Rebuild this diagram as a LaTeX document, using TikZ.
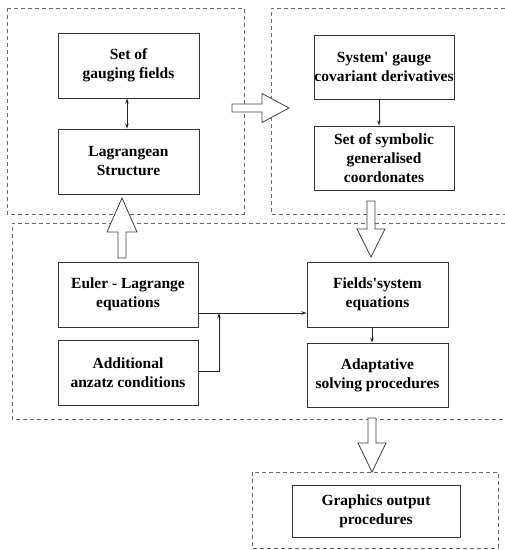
\documentclass[tikz,border=0pt]{standalone}
\usepackage{fontspec}
\setmainfont{Liberation Serif}
\usetikzlibrary{arrows.meta,calc}
\begin{document}
\begin{tikzpicture}[x=1pt,y=-1pt,
  box/.style={draw=black!80, line width=0.9pt, minimum width=141pt, minimum height=65pt,
    align=center, inner sep=0pt, font=\fontsize{15.5}{19}\selectfont\bfseries},
  region/.style={draw=black!60, dash pattern=on 4pt off 3pt, line width=0.8pt},
  thin/.style={draw=black!85, line width=0.8pt, -{Stealth[length=5pt,width=3.5pt]}},
  hollow/.style={draw=black!75, fill=white, line width=0.8pt, line join=miter}]
\useasboundingbox (0,0) rectangle (505,550);

% dashed regions
\draw[region] (7,8) rectangle (244,214);
\draw[region] (505,8) -- (271,8) -- (271,214) -- (505,214);
\draw[region] (505,223) -- (12,223) -- (12,419) -- (505,419);
\draw[region] (252,472) rectangle (498,548);

% boxes
\node[box] (gauge) at (128.5,65.5) {Set of\\gauging fields};
\node[box] (lagr) at (128.5,161.5) {Lagrangean\\Structure};
\node[box, minimum width=140pt, minimum height=64pt] (sysg) at (384,67) {System\textquotesingle{} gauge\\covariant derivatives};
\node[box, minimum width=140pt, minimum height=64pt] (symb) at (384,158) {Set of symbolic\\generalised\\coordonates};
\node[box, minimum width=140pt] (euler) at (128,294.5) {Euler - Lagrange\\equations};
\node[box, minimum width=140pt] (addit) at (128,372.5) {Additional\\anzatz conditions};
\node[box] (fields) at (377.5,294.5) {Fields\textquotesingle{}system\\equations};
\node[box, minimum height=64pt] (adapt) at (377.5,375) {Adaptative\\solving procedures};
\node[box, minimum width=168pt, minimum height=52pt] (graph) at (376,511) {Graphics output\\procedures};

% thin connectors
\draw[thin, {Stealth[length=5pt,width=3.5pt]}-{Stealth[length=5pt,width=3.5pt]}]
  (gauge.south -| 127,0) -- (lagr.north -| 127,0);
\draw[thin] (sysg.south -| 379,0) -- (symb.north -| 379,0);
\coordinate (j) at (219,313);
\draw[thin] (euler.east |- j) -- (fields.west |- j);
\draw[thin] (addit.east |- 0,371) -| (j);
\draw[thin] (fields.south -| 372,0) -- (adapt.north -| 372,0);

% hollow arrows
\coordinate (r0) at (232,108); \coordinate (r1) at (289,108);
\draw[hollow] ($(r0)+(0,-4)$) -- ($(r1)+(-27,-4)$) -- ($(r1)+(-27,-14.5)$) -- (r1)
  -- ($(r1)+(-27,14.5)$) -- ($(r1)+(-27,4)$) -- ($(r0)+(0,4)$) -- cycle;
\coordinate (u0) at (122,258); \coordinate (u1) at (122,198);
\draw[hollow] ($(u0)+(-4,0)$) -- ($(u1)+(-4,34)$) -- ($(u1)+(-15,34)$) -- (u1)
  -- ($(u1)+(15,34)$) -- ($(u1)+(4,34)$) -- ($(u0)+(4,0)$) -- cycle;
\coordinate (d0) at (371,201); \coordinate (d1) at (371,257);
\draw[hollow] ($(d0)+(-4,0)$) -- ($(d1)+(-4,-28)$) -- ($(d1)+(-14,-28)$) -- (d1)
  -- ($(d1)+(14,-28)$) -- ($(d1)+(4,-28)$) -- ($(d0)+(4,0)$) -- cycle;
\coordinate (e0) at (372,418); \coordinate (e1) at (372,472);
\draw[hollow] ($(e0)+(-4,0)$) -- ($(e1)+(-4,-29)$) -- ($(e1)+(-14,-29)$) -- (e1)
  -- ($(e1)+(14,-29)$) -- ($(e1)+(4,-29)$) -- ($(e0)+(4,0)$) -- cycle;
\end{tikzpicture}
\end{document}
